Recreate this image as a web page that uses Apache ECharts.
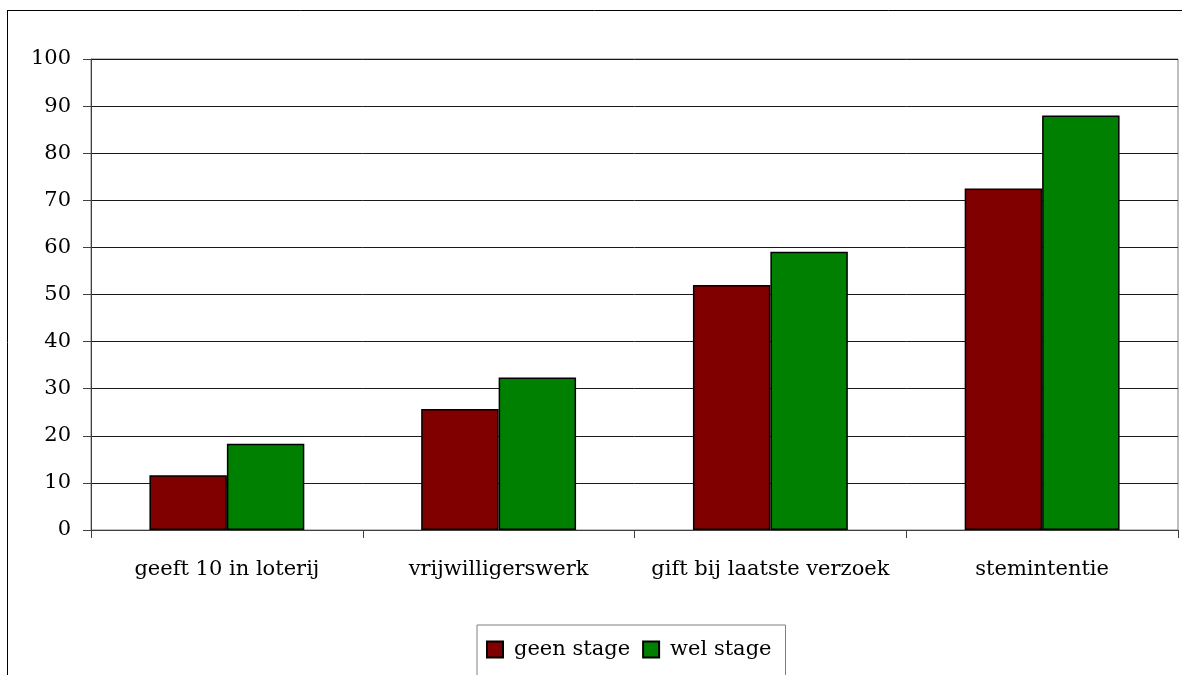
<!DOCTYPE html>
<html>
<head>
<meta charset="utf-8">
<script src="https://cdn.jsdelivr.net/npm/echarts@6/dist/echarts.min.js"></script>
<style>
html,body{margin:0;padding:0;background:#fff;}
#chart{width:1190px;height:675px;}
</style>
</head>
<body>
<div id="chart"></div>
<script>
const categories = ['geeft 10 in loterij', 'vrijwilligerswerk', 'gift bij laatste verzoek', 'stemintentie'];
const geenStage = [11.6, 25.7, 52.0, 72.5];
const welStage = [18.3, 32.4, 59.1, 88.0];
const seriesNames = ['geen stage', 'wel stage'];
const yTicks = {min: 0, max: 100, interval: 10};

const FONT = 'DejaVu Serif';
const chart = echarts.init(document.getElementById('chart'), null, {renderer: 'canvas'});
chart.setOption({
  animation: false,
  backgroundColor: '#fff',
  graphic: [
    {type: 'line', shape: {x1: 7, y1: 10.5, x2: 1182, y2: 10.5}, style: {stroke: '#000', lineWidth: 1}},
    {type: 'line', shape: {x1: 7.5, y1: 10, x2: 7.5, y2: 675}, style: {stroke: '#000', lineWidth: 1}}
  ],
  grid: {left: 91, right: 12, top: 59, bottom: 145, show: true, borderColor: '#808080', borderWidth: 1, backgroundColor: 'transparent'},
  legend: {
    data: seriesNames,
    left: 477, top: 625,
    orient: 'horizontal',
    padding: [14, 14, 20, 9],
    borderColor: '#808080', borderWidth: 1,
    itemWidth: 16, itemHeight: 16, itemGap: 12,
    icon: 'rect',
    textStyle: {fontFamily: FONT, fontSize: 21, color: '#000', padding: [0, 0, 0, 6]}
  },
  xAxis: {
    type: 'category',
    data: categories,
    axisLine: {lineStyle: {color: '#404040', width: 1}},
    axisTick: {show: true, length: 8, inside: false, alignWithLabel: false, lineStyle: {color: '#404040'}},
    axisLabel: {fontFamily: FONT, fontSize: 21, color: '#000', margin: 29, interval: 0},
    splitLine: {show: false}
  },
  yAxis: {
    type: 'value',
    min: yTicks.min, max: yTicks.max, interval: yTicks.interval,
    axisLine: {show: true, lineStyle: {color: '#404040', width: 1}},
    axisTick: {show: true, length: 8, inside: false, lineStyle: {color: '#404040'}},
    axisLabel: {fontFamily: FONT, fontSize: 21, color: '#000', margin: 20},
    splitLine: {show: true, lineStyle: {color: '#1a1a1a', width: 1}}
  },
  series: [
    {name: seriesNames[0], type: 'bar', data: geenStage, barGap: '0%', barCategoryGap: '43%',
     itemStyle: {color: '#800000', borderColor: '#000', borderWidth: 1.5}},
    {name: seriesNames[1], type: 'bar', data: welStage, barGap: '0%', barCategoryGap: '43%',
     itemStyle: {color: '#008000', borderColor: '#000', borderWidth: 1.5}}
  ]
});
</script>
</body>
</html>
